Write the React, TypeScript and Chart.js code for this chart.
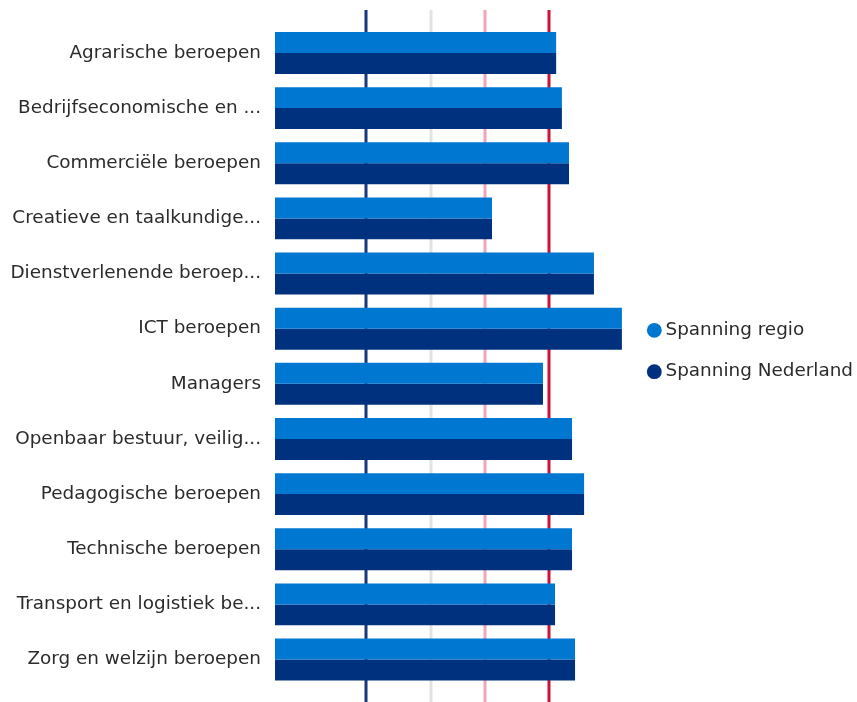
import React, { useEffect, useRef } from "react";
import { Chart, registerables } from "chart.js";

Chart.register(...registerables);

const categories = [
  "Agrarische beroepen",
  "Bedrijfseconomische en ...",
  "Commerciële beroepen",
  "Creatieve en taalkundige...",
  "Dienstverlenende beroep...",
  "ICT beroepen",
  "Managers",
  "Openbaar bestuur, veilig...",
  "Pedagogische beroepen",
  "Technische beroepen",
  "Transport en logistiek be...",
  "Zorg en welzijn beroepen",
];

const spanningRegio = [102.6, 104.7, 107.3, 79.2, 116.4, 126.6, 97.8, 108.4, 112.8, 108.4, 102.2, 109.5];
const spanningNederland = [102.6, 104.7, 107.3, 79.2, 116.4, 126.6, 97.8, 108.4, 112.8, 108.4, 102.2, 109.5];

const thresholdValues = [33.2, 56.9, 76.5, 100];
const thresholdColors = ["#17377f", "#e3e3e3", "#efa6b6", "#cf1138"];

const FONT = "'DejaVu Sans', Verdana, sans-serif";

const thresholdPlugin = {
  id: "thresholds",
  beforeDatasetsDraw(chart: any) {
    const { ctx, scales } = chart;
    const x = scales.x;
    ctx.save();
    thresholdValues.forEach((v, i) => {
      const px = Math.round(x.getPixelForValue(v));
      ctx.beginPath();
      ctx.strokeStyle = thresholdColors[i];
      ctx.lineWidth = 3;
      ctx.moveTo(px, 10);
      ctx.lineTo(px, chart.height);
      ctx.stroke();
    });
    ctx.restore();
  },
};

export default function App() {
  const ref = useRef<HTMLCanvasElement | null>(null);
  useEffect(() => {
    if (!ref.current) return;
    const chart = new Chart(ref.current, {
      type: "bar",
      data: {
        labels: categories,
        datasets: [
          {
            label: "Spanning regio",
            data: spanningRegio,
            backgroundColor: "#0078d2",
            borderWidth: 0,
            categoryPercentage: 0.76,
            barPercentage: 1,
          },
          {
            label: "Spanning Nederland",
            data: spanningNederland,
            backgroundColor: "#00317f",
            borderWidth: 0,
            categoryPercentage: 0.76,
            barPercentage: 1,
          },
        ],
      },
      options: {
        indexAxis: "y",
        animation: false,
        responsive: true,
        maintainAspectRatio: false,
        layout: { padding: { top: 0, bottom: 0, left: 0, right: 0 } },
        scales: {
          x: {
            display: false,
            min: 0,
            max: 129.3,
          },
          y: {
            grid: { display: false },
            border: { display: false },
            ticks: {
              color: "#2b2b2b",
              padding: 6,
              font: { family: FONT, size: 18.4 },
            },
            afterFit: (scale: any) => {
              scale.width = 275;
              scale.paddingTop = 0;
              scale.paddingBottom = 0;
            },
          },
        },
        plugins: {
          title: {
            display: true,
            text: "",
            font: { size: 10, lineHeight: 1 },
            padding: { top: 15.4, bottom: 0 },
          },
          subtitle: {
            display: true,
            position: "bottom",
            text: "",
            font: { size: 10, lineHeight: 1 },
            padding: { top: 4.9, bottom: 0 },
          },
          legend: {
            position: "right",
            maxWidth: 227.7,
            labels: {
              usePointStyle: true,
              pointStyle: "circle",
              boxWidth: 4,
              boxHeight: 10.5,
              padding: 23,
              color: "#2b2b2b",
              font: { family: FONT, size: 18.4 },
            },
          },
          tooltip: { enabled: false },
        },
      },
      plugins: [thresholdPlugin],
    });
    return () => chart.destroy();
  }, []);
  return (
    <div style={{ position: "fixed", left: 0, top: 0, width: 857, height: 702, background: "#fff" }}>
      <canvas ref={ref} />
    </div>
  );
}
